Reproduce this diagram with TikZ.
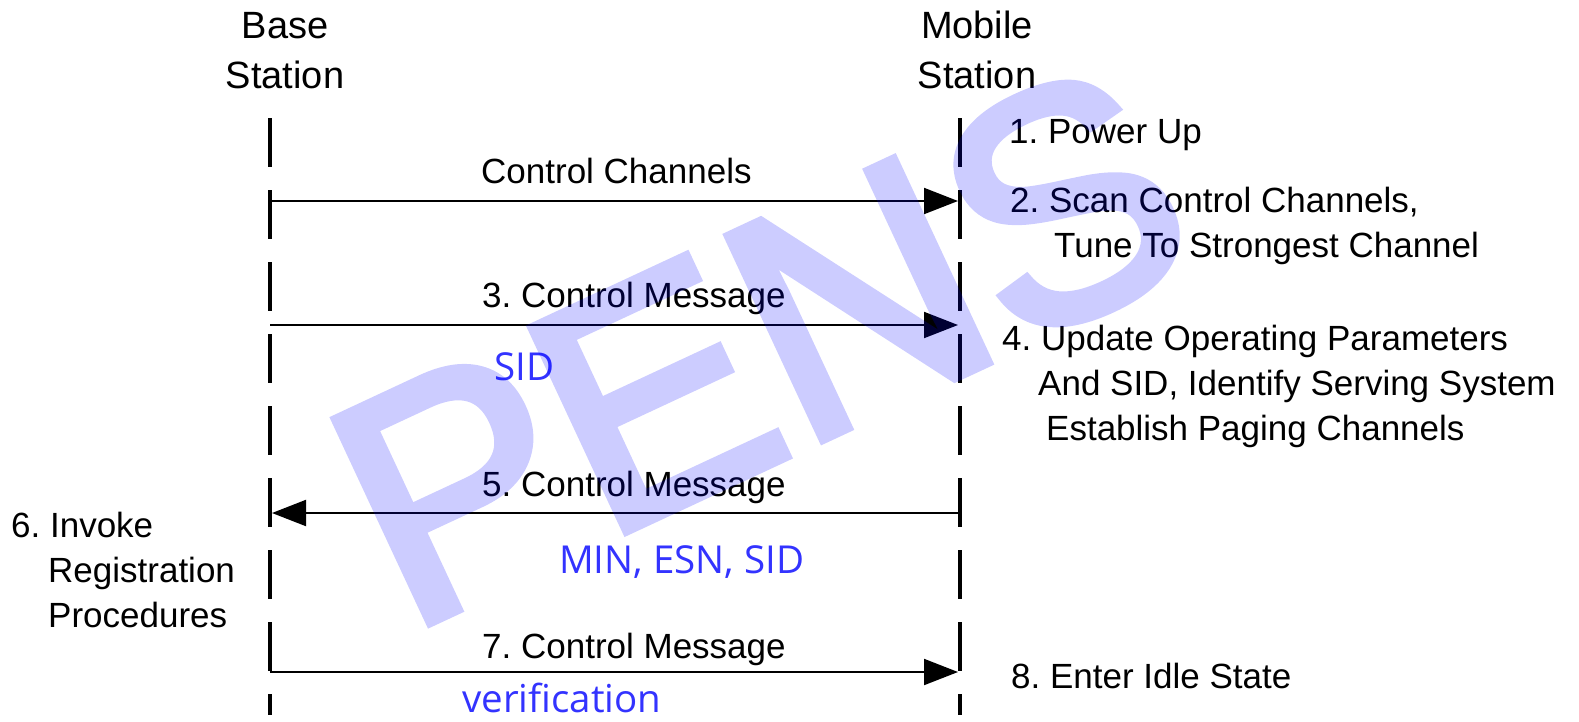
\documentclass[tikz,border=0pt]{standalone}
\usepackage{fontspec}
\setmainfont{Liberation Sans}
\newfontfamily\bluefont{Open Sans}
\newfontfamily\wmfont[FakeBold=3]{Liberation Sans}
\usetikzlibrary{arrows.meta}
\definecolor{sidblue}{RGB}{51,51,255}
\definecolor{wmblue}{RGB}{0,0,255}
\begin{document}
\frenchspacing
\begin{tikzpicture}[x=1pt,y=-1pt,
  lbl/.style={inner sep=0pt, anchor=base west, font=\fontsize{35}{42}\selectfont},
  hdr/.style={inner sep=0pt, anchor=base, font=\fontsize{38}{46}\selectfont},
  blu/.style={inner sep=0pt, anchor=base west, text=sidblue, font=\bluefont\fontsize{38.5}{46}\selectfont},
  life/.style={line width=4pt, dash pattern=on 49pt off 23pt},
  msg/.style={line width=2pt, -{Triangle[length=34pt,width=26pt]}},
]
\useasboundingbox (0,0) rectangle (1579,721);
\fill[white] (0,0) rectangle (1579,721);

% headers
\node[hdr] (bsh1) at (285,38) {Base};
\node[hdr] (bsh2) at (285,88) {Station};
\node[hdr] (msh1) at (977,38) {Mobile};
\node[hdr] (msh2) at (977,88) {Station};

% lifelines
\coordinate (bstop) at (270,118);
\coordinate (bsbot) at (270,715);
\coordinate (mstop) at (960,118);
\coordinate (msbot) at (960,715);
\draw[life] (bstop) -- (bsbot);
\draw[life] (mstop) -- (msbot);

% message ends
\coordinate (a1s) at (270,201);
\coordinate (a1e) at (958,201);
\coordinate (a3s) at (270,325);
\coordinate (a3e) at (958,325);
\coordinate (a5s) at (960,513);
\coordinate (a5e) at (272,513);
\coordinate (a7s) at (270,672);
\coordinate (a7e) at (958,672);
\draw[msg] (a1s) -- (a1e);
\draw[msg] (a3s) -- (a3e);
\draw[msg] (a5s) -- (a5e);
\draw[msg] (a7s) -- (a7e);

% message labels
\node[lbl] (l1) at (481,183) {Control Channels};
\node[lbl] (l3) at (482,307) {3. Control Message};
\node[lbl] (l5) at (482,496) {5. Control Message};
\node[lbl] (l7) at (482,658) {7. Control Message};

% mobile side notes
\node[lbl] (r1) at (1009,143) {1. Power Up};
\node[lbl] (r2a) at (1010,212) {2. Scan Control Channels,};
\node[lbl] (r2b) at (1054,257) {Tune To Strongest Channel};
\node[lbl] (r4a) at (1002,350) {4. Update Operating Parameters};
\node[lbl] (r4b) at (1038,395) {And SID, Identify Serving System};
\node[lbl] (r4c) at (1046,440) {Establish Paging Channels};
\node[lbl] (r8) at (1011,688) {8. Enter Idle State};

% base side note
\node[lbl] (b6a) at (11,537) {6. Invoke};
\node[lbl] (b6b) at (48,582) {Registration};
\node[lbl] (b6c) at (48,627) {Procedures};

% blue annotations
\node[blu] (s3) at (494,380) {SID};
\node[blu] (s5) at (559,573) {MIN, ESN, SID};
\node[blu] (s7) at (462,712) {verification};

% watermark
\begin{scope}[transparency group, opacity=0.2]
\node[inner sep=0pt, rotate=25, text=wmblue,
      font=\wmfont\fontsize{325}{325}\selectfont] (wm) at (760,345) {PENS};
\end{scope}
\end{tikzpicture}
\end{document}
